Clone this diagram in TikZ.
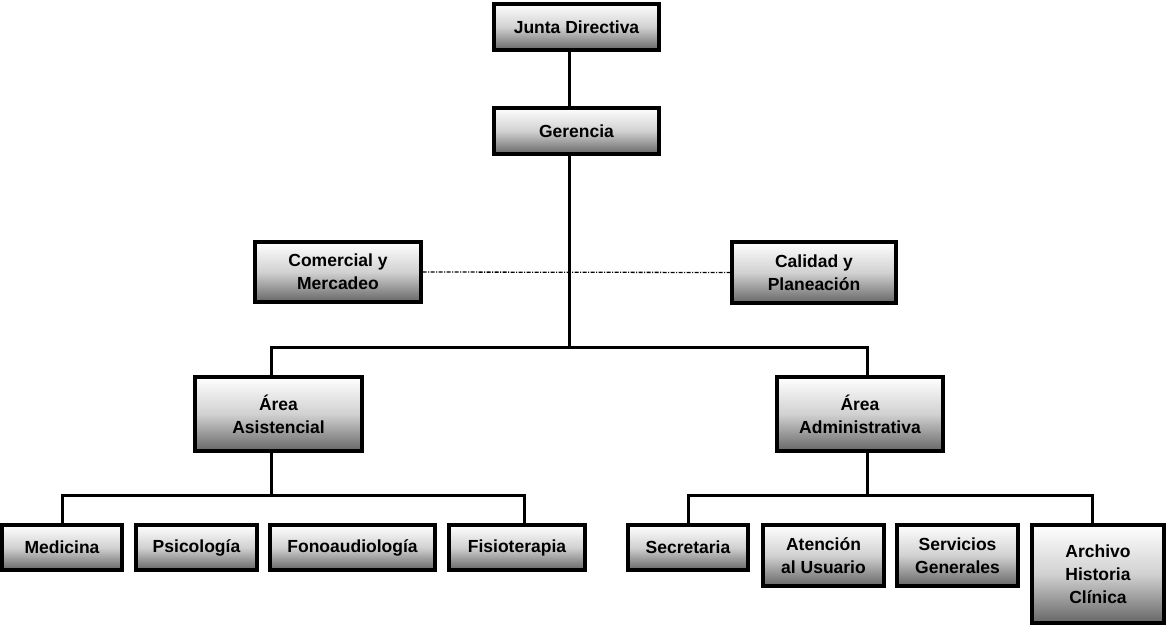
\documentclass[tikz,border=0pt]{standalone}
\usepackage{fontspec}
\setmainfont{Liberation Sans}
\begin{document}
\begin{tikzpicture}[x=1pt,y=-1pt,
  box/.style={draw=black, line width=3.2pt, top color=white, bottom color=black!60, middle color=black!18,
    align=center, inner sep=0pt, font=\fontsize{17.5}{23}\selectfont\bfseries},
  conn/.style={line width=3pt},
  dotconn/.style={line width=1.3pt, dash pattern=on 4pt off 1.5pt on 1pt off 1.5pt}]
\useasboundingbox (0,0) rectangle (1166,625);
\node[box, minimum width=165pt, minimum height=46pt] (junta) at (576.5,27) {Junta Directiva};
\node[box, minimum width=165pt, minimum height=46pt] (ger) at (576.5,131) {Gerencia};
\node[box, minimum width=166pt, minimum height=60pt] (com) at (338,272) {Comercial y\\Mercadeo};
\node[box, minimum width=164pt, minimum height=61pt] (cal) at (814,272.5) {Calidad y\\Planeación};
\node[box, minimum width=167pt, minimum height=74pt] (asis) at (278.5,414) {Área\\Asistencial};
\node[box, minimum width=166pt, minimum height=74pt] (adm) at (860,414) {Área\\Administrativa};
\node[box, minimum width=120pt, minimum height=45pt] (med) at (62,547.5) {Medicina};
\node[box, minimum width=121pt, minimum height=45pt] (psi) at (196.5,547.5) {Psicología};
\node[box, minimum width=165pt, minimum height=45pt] (fono) at (352.5,547.5) {Fonoaudiología};
\node[box, minimum width=136pt, minimum height=45pt] (fisio) at (517,547.5) {Fisioterapia};
\node[box, minimum width=120pt, minimum height=45pt] (sec) at (688,547.5) {Secretaria};
\node[box, minimum width=121pt, minimum height=61pt] (ate) at (823.5,555.5) {Atención\\al Usuario};
\node[box, minimum width=121pt, minimum height=61pt] (ser) at (957.5,555.5) {Servicios\\Generales};
\node[box, minimum width=132pt, minimum height=98pt] (arc) at (1098,574) {Archivo\\Historia\\Clínica};
% top connectors
\draw[conn] (junta.south -| 569,0) -- (ger.north -| 569,0);
\coordinate (mainbus) at (569,347);
\draw[conn] (ger.south -| 569,0) -- (mainbus);
\draw[conn] (asis.north -| 271,0) |- (mainbus) -| (adm.north -| 867,0);
\draw[dotconn] (com.east) -- (cal.west);
% left branch
\coordinate (lbus) at (271,495);
\draw[conn] (asis.south -| 271,0) -- (lbus);
\draw[conn] (med.north -| 62,0) |- (lbus) -| (fisio.north -| 524,0);
\draw[conn] (psi.north -| 196,0) -- (psi.north -| 196,495);
\draw[conn] (fono.north -| 345,0) -- (fono.north -| 345,495);
% right branch
\coordinate (rbus) at (867,495);
\draw[conn] (adm.south -| 867,0) -- (rbus);
\draw[conn] (sec.north -| 688,0) |- (rbus) -| (arc.north -| 1092,0);
\draw[conn] (ate.north -| 823,0) -- (ate.north -| 823,495);
\draw[conn] (ser.north -| 957,0) -- (ser.north -| 957,495);
\end{tikzpicture}
\end{document}
